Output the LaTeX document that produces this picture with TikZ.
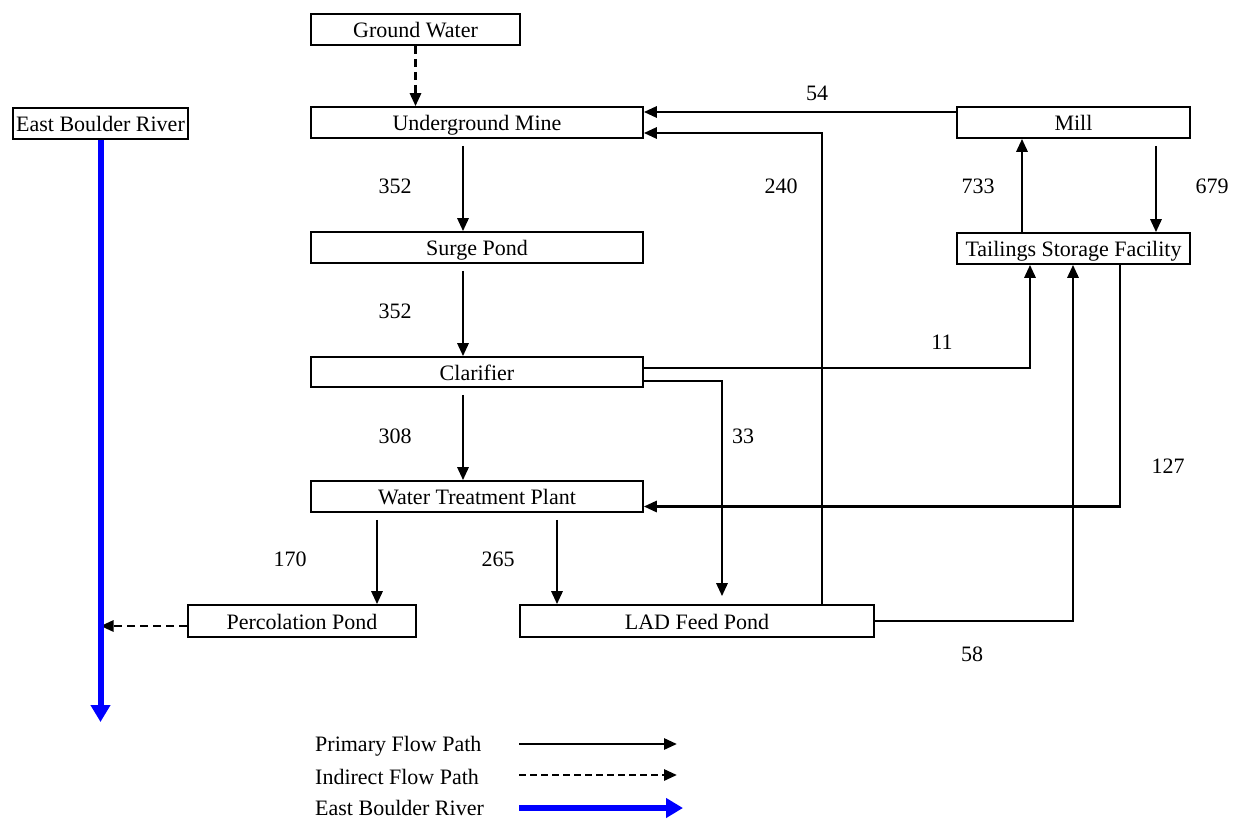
\documentclass[tikz,border=0pt]{standalone}
\usepackage{fontspec}
\setmainfont{Liberation Serif}
\usetikzlibrary{arrows.meta}
\begin{document}
\begin{tikzpicture}[x=1pt,y=-1pt,
  box/.style={draw, line width=1.6pt, inner sep=0pt, text height=18pt, text depth=2pt, font=\fontsize{22}{24}\selectfont},
  lbl/.style={inner sep=0pt, font=\fontsize{22}{24}\selectfont},
  flow/.style={line width=2.8pt, -{Triangle[length=13pt,width=11pt]}},
  ind/.style={flow, dash pattern=on 8pt off 5pt},
  river/.style={blue, line width=6pt, -{Triangle[length=17pt,width=19pt]}}]
\useasboundingbox (0,0) rectangle (1235,825);
% boxes
\node[box, minimum width=209pt, minimum height=31pt] (gw) at (415.5,29.5) {Ground Water};
\node[box, minimum width=332pt, minimum height=31pt] (um) at (477,122.5) {Underground Mine};
\node[box, minimum width=175pt, minimum height=31pt] (ebr) at (100.5,123.5) {East Boulder River};
\node[box, minimum width=233pt, minimum height=31pt] (mill) at (1073.5,122.5) {Mill};
\node[box, minimum width=332pt, minimum height=31pt] (surge) at (477,247.5) {Surge Pond};
\node[box, minimum width=233pt, minimum height=31pt] (tsf) at (1073.5,248.5) {Tailings Storage Facility};
\node[box, minimum width=332pt, minimum height=30pt] (clar) at (477,372) {Clarifier};
\node[box, minimum width=332pt, minimum height=31pt] (wtp) at (477,496.5) {Water Treatment Plant};
\node[box, minimum width=228pt, minimum height=32pt] (perc) at (302,621) {Percolation Pond};
\node[box, minimum width=354pt, minimum height=32pt] (lad) at (697,621) {LAD Feed Pond};
% connectors
\draw[ind] (gw.south) -- (gw.south |- um.north);
\draw[flow, shorten <=7pt] ([xshift=-14pt]um.south) -- ([xshift=-14pt]surge.north);
\draw[flow, shorten <=7pt] ([xshift=-14pt]surge.south) -- ([xshift=-14pt]clar.north);
\draw[flow, shorten <=7pt] ([xshift=-14pt]clar.south) -- ([xshift=-14pt]wtp.north);
\draw[flow, shorten <=7pt] ([xshift=-100pt]wtp.south) -- ([xshift=-100pt]wtp.south |- perc.north);
\draw[flow, shorten <=7pt] ([xshift=80pt]wtp.south) -- ([xshift=80pt]wtp.south |- lad.north);
\draw[flow, shorten >=8pt] ([yshift=-9pt]clar.east) -| ([xshift=25pt]lad.north);
\draw[flow] ([yshift=4pt]clar.east) -| ([xshift=-43.5pt]tsf.south);
\draw[flow] ([yshift=10.5pt]mill.west) -- ([yshift=10.5pt]um.east);
\draw[flow] ([xshift=125pt]lad.north) |- ([yshift=-10.5pt]um.east);
\draw[flow] ([xshift=-51.5pt]tsf.north) -- ([xshift=-51.5pt]mill.south);
\draw[flow, shorten <=7pt] ([xshift=82.5pt]mill.south) -- ([xshift=82.5pt]tsf.north);
\draw[flow] ([xshift=46.5pt]tsf.south) |- ([yshift=-10pt]wtp.east);
\draw[flow] (lad.east) -| ([xshift=-0.5pt]tsf.south);
\draw[ind] ([yshift=-5pt]perc.west) -- ([yshift=-5pt]perc.west -| ebr.south);
\coordinate (riverend) at (100.5,722);
\draw[river] (ebr.south) -- (riverend);
% flow labels
\node[lbl] (l54) at (817,93) {54};
\node[lbl] (l352a) at (395,186) {352};
\node[lbl] (l240) at (781,186) {240};
\node[lbl] (l733) at (978,186) {733};
\node[lbl] (l679) at (1212,186) {679};
\node[lbl] (l352b) at (395,311) {352};
\node[lbl] (l11) at (942,342) {11};
\node[lbl] (l308) at (395,436) {308};
\node[lbl] (l33) at (743,436) {33};
\node[lbl] (l127) at (1168,466) {127};
\node[lbl] (l170) at (290,559) {170};
\node[lbl] (l265) at (498,559) {265};
\node[lbl] (l58) at (972,654) {58};
% legend
\node[lbl, anchor=west] (leg1) at (315,746) {Primary Flow Path};
\node[lbl, anchor=west] (leg2) at (315,777) {Indirect Flow Path};
\node[lbl, anchor=west] (leg3) at (315,808) {East Boulder River};
\coordinate (a1s) at (519,744); \coordinate (a1e) at (677,744);
\coordinate (a2s) at (519,775); \coordinate (a2e) at (677,775);
\coordinate (a3s) at (519,808); \coordinate (a3e) at (683,808);
\draw[flow] (a1s) -- (a1e);
\draw[ind, dash pattern=on 7pt off 4pt] (a2s) -- (a2e);
\draw[river] (a3s) -- (a3e);
\end{tikzpicture}
\end{document}
